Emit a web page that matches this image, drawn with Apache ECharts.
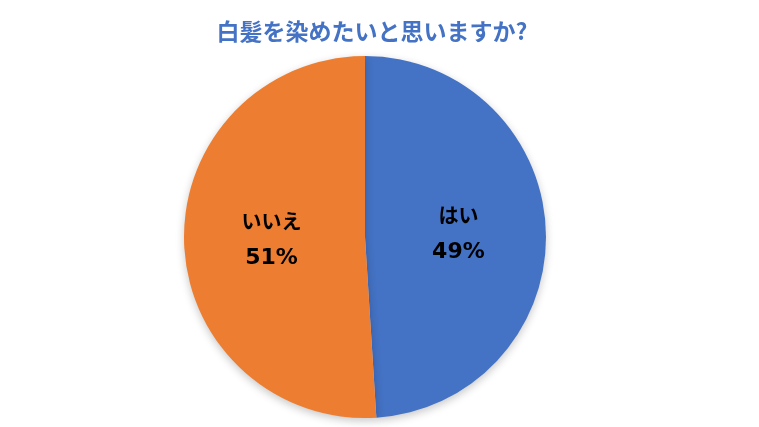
<!DOCTYPE html>
<html><head><meta charset="utf-8">
<script src="https://cdn.jsdelivr.net/npm/echarts@6/dist/echarts.min.js"></script>
<style>html,body{margin:0;padding:0;background:#fff;}#c{width:759px;height:427px;}</style>
</head><body><div id="c"></div>
<script>
var titleText = '白髪を染めたいと思いますか?';
var categories = ['はい', 'いいえ'];
var values = [49, 51];
var colors = ['#4472C4', '#ED7D31'];

var chart = echarts.init(document.getElementById('c'), null, {renderer: 'canvas'});
chart.setOption({
  animation: false,
  backgroundColor: '#fff',
  title: {
    text: titleText,
    left: 367, top: 15, textAlign: 'center',
    textStyle: {fontFamily: 'Noto Sans CJK JP', fontWeight: 'bold', fontSize: 23, color: '#4472C4'}
  },
  series: [{
    type: 'pie',
    center: [365, 237],
    radius: [0, 181],
    startAngle: 90,
    clockwise: true,
    avoidLabelOverlap: false,
    data: categories.map(function (c, i) {
      return {name: c, value: values[i], itemStyle: {color: colors[i]}};
    }),
    itemStyle: {shadowBlur: 8, shadowOffsetY: 3, shadowColor: 'rgba(0,0,0,0.22)'},
    label: {
      show: true, position: 'inside',
      formatter: function (p) { return '{n|' + p.name + '}\n{v|' + p.value + '%}'; },
      rich: {
        n: {fontFamily: 'Noto Sans CJK JP', fontWeight: 'bold', fontSize: 20, color: '#000', lineHeight: 37},
        v: {fontFamily: 'DejaVu Sans', fontWeight: 'bold', fontSize: 22, color: '#000', lineHeight: 37}
      }
    },
    labelLine: {show: false},
    emphasis: {disabled: true}
  }]
});
</script></body></html>
